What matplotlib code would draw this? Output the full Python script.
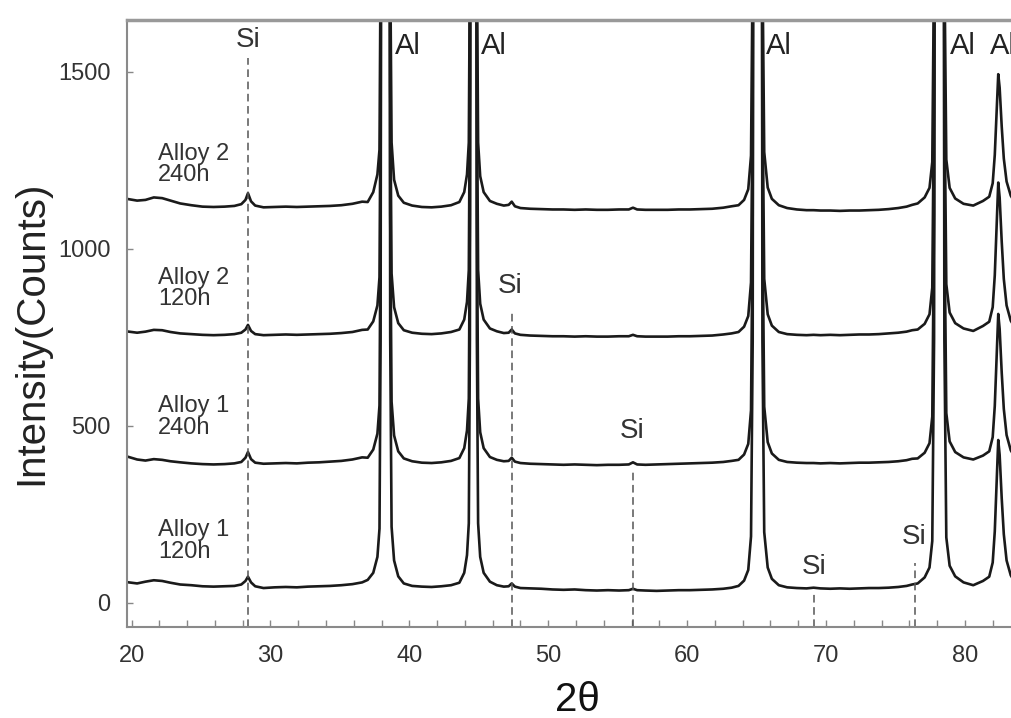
import matplotlib
matplotlib.use("Agg")
import matplotlib.pyplot as plt
from matplotlib.ticker import MultipleLocator

plt.rcParams['font.family'] = ['Liberation Sans', 'DejaVu Sans']

# 2theta grid (deg), dense around the peaks
two_theta = [19.8, 20.4, 21.0, 21.6, 22.2, 22.8, 23.5, 24.3, 25.1, 25.9, 26.7, 27.4, 27.9, 28.2, 28.38, 28.6, 28.9, 29.5,
             30.3, 31.1, 31.9, 32.7, 33.5, 34.3, 35.1, 35.9, 36.6,
             37.0, 37.4, 37.7, 37.85, 37.93, 38.05, 38.28, 38.51, 38.62, 38.72, 38.9, 39.2, 39.6,
             40.2, 40.9, 41.6, 42.3, 43.0,
             43.6, 43.95, 44.15, 44.28, 44.36, 44.46, 44.61, 44.76, 44.86, 44.95, 45.1, 45.35, 45.8,
             46.3, 46.8, 47.15, 47.37, 47.6, 48.0, 48.7, 49.5, 50.3, 51.1, 51.9, 52.7, 53.5, 54.3, 55.1, 55.8, 56.1, 56.4,
             57.0, 57.8, 58.6, 59.4, 60.2, 61.0, 61.8, 62.6, 63.2,
             63.7, 64.1, 64.4, 64.6, 64.72, 64.85, 65.07, 65.3, 65.42, 65.55, 65.8, 66.1, 66.6,
             67.2, 67.9, 68.6, 69.1, 69.6, 70.3, 71.0, 71.7, 72.4, 73.1, 73.8, 74.5, 75.2, 75.8, 76.2,
             76.6, 77.1, 77.45, 77.65, 77.78, 77.92, 78.15, 78.4, 78.52, 78.66, 78.9, 79.3, 79.9, 80.6,
             81.3, 81.75, 82.0, 82.15, 82.27, 82.4, 82.5, 82.65, 82.8, 83.0, 83.3, 83.5]

alloy1_120h = [58, 55, 60, 64, 62, 57, 52, 50, 47, 46, 47, 48, 52, 62, 74, 58, 47, 42,
               44, 45, 44, 46, 47, 48, 50, 53, 58,
               65, 85, 130, 210, 750, 5050, 8050, 5050, 750, 215, 120, 75, 55,
               48, 46, 45, 47, 50,
               57, 85, 135, 225, 745, 5045, 8045, 5045, 745, 225, 130, 85, 60,
               50, 46, 47, 55, 46, 42, 41, 40, 38, 37, 38, 36, 35, 36, 35, 36, 40, 36,
               35, 34, 35, 36, 36, 37, 38, 40, 43,
               48, 63, 93, 188, 738, 5040, 8040, 5040, 740, 200, 100, 68, 50,
               44, 42, 41, 43, 41, 40, 41, 40, 41, 42, 42, 43, 45, 48, 52,
               55, 72, 100, 175, 745, 5045, 8045, 5045, 745, 185, 105, 75, 58, 50,
               62, 74, 114, 202, 326, 460, 418, 295, 194, 120, 78, 65]

alloy1_240h = [412, 405, 402, 406, 404, 400, 397, 394, 392, 391, 392, 394, 398, 410, 426, 406, 396, 393,
               394, 395, 394, 396, 397, 399, 401, 405, 411,
               410, 433, 478, 558, 1098, 5400, 8400, 5400, 1098, 568, 473, 428, 408,
               400, 396, 395, 397, 401,
               409, 437, 487, 577, 1097, 5400, 8400, 5400, 1097, 577, 482, 437, 412,
               404, 400, 401, 410, 399, 395, 393, 392, 391, 390, 391, 390, 389, 390, 390, 391, 397, 391,
               390, 391, 392, 393, 394, 395, 396, 398, 401,
               404, 419, 449, 544, 1094, 5400, 8400, 5400, 1094, 554, 454, 422, 404,
               398, 396, 395, 395, 394, 395, 394, 395, 396, 396, 397, 398, 400, 403, 407,
               408, 424, 451, 526, 1096, 5400, 8400, 5400, 1096, 536, 456, 426, 411, 405,
               416, 428, 468, 556, 680, 816, 774, 650, 548, 474, 431, 418]

alloy2_120h = [766, 763, 766, 771, 770, 765, 761, 759, 757, 756, 757, 759, 763, 772, 785, 768, 759, 756,
               757, 758, 757, 758, 759, 760, 762, 765, 771,
               772, 795, 840, 920, 1460, 5760, 8760, 5760, 1460, 930, 835, 790, 770,
               763, 760, 759, 761, 765,
               772, 800, 850, 940, 1460, 5760, 8760, 5760, 1460, 940, 845, 800, 775,
               767, 762, 763, 772, 761, 757, 755, 754, 753, 753, 752, 753, 752, 752, 753, 753, 757, 753,
               752, 752, 752, 753, 753, 754, 755, 758, 761,
               765, 780, 810, 905, 1455, 5755, 8755, 5755, 1455, 915, 815, 783, 765,
               759, 757, 756, 757, 756, 757, 756, 757, 758, 758, 759, 761, 763, 766, 770,
               772, 788, 815, 890, 1460, 5760, 8760, 5760, 1460, 900, 820, 790, 775, 768,
               782, 794, 835, 925, 1050, 1187, 1145, 1020, 915, 840, 797, 784]

alloy2_240h = [1140, 1136, 1138, 1145, 1143, 1136, 1128, 1123, 1119, 1118, 1119, 1121, 1126, 1138, 1157, 1134, 1122, 1117,
               1118, 1119, 1118, 1119, 1120, 1121, 1123, 1127, 1133,
               1132, 1160, 1210, 1280, 1820, 6120, 9120, 6120, 1820, 1300, 1195, 1150, 1130,
               1122, 1118, 1117, 1119, 1123,
               1132, 1160, 1210, 1300, 1820, 6120, 9120, 6120, 1820, 1300, 1205, 1160, 1135,
               1127, 1122, 1124, 1133, 1120, 1115, 1113, 1112, 1111, 1111, 1110, 1111, 1110, 1110, 1111, 1111, 1116, 1111,
               1110, 1110, 1110, 1111, 1111, 1112, 1113, 1116, 1120,
               1123, 1138, 1168, 1263, 1813, 6113, 9113, 6113, 1813, 1273, 1173, 1141, 1123,
               1115, 1111, 1109, 1109, 1108, 1108, 1107, 1108, 1108, 1109, 1110, 1112, 1115, 1119, 1124,
               1128, 1145, 1172, 1245, 1812, 6112, 9112, 6112, 1812, 1252, 1172, 1142, 1127, 1122,
               1135, 1147, 1185, 1265, 1375, 1493, 1455, 1345, 1255, 1190, 1150, 1137]

patterns = [alloy1_120h, alloy1_240h, alloy2_120h, alloy2_240h]
pattern_names = ["Alloy 1\n120h", "Alloy 1\n240h", "Alloy 2\n120h", "Alloy 2\n240h"]
name_y = [175, 525, 889, 1237]

# Si reflections: position, top of dashed marker, label position
si_pos = [28.38, 47.37, 56.1, 69.1, 76.4]
si_line_top = [1540, 820, 375, 28, 113]
si_label_x = [28.38, 47.28, 56.06, 69.13, 76.33]
si_label_y = [1590, 895, 486, 102, 186]

# Al labels (left edge of text)
al_label_x = [38.95, 45.15, 65.7, 78.9, 81.8]
al_label_y = 1572

fig = plt.figure(figsize=(10.12, 7.18), dpi=100)
ax = fig.add_axes([127/1012, 91/718, 885/1012, 607/718])

for y in patterns:
    ax.plot(two_theta, y, color='#1a1a1a', lw=1.9, solid_joinstyle='round')

ax.vlines(si_pos, -68, si_line_top, colors='#555555', linestyles=(0, (5, 3)), lw=1.1)

for nm, yy in zip(pattern_names, name_y):
    ax.text(21.9, yy, nm, fontsize=17, color='#333333', ha='left', va='center', linespacing=0.95)
for xx, yy in zip(si_label_x, si_label_y):
    ax.text(xx, yy, "Si", fontsize=20, color='#333333', ha='center', va='center')
for xx in al_label_x:
    ax.text(xx, al_label_y, "Al", fontsize=21, color='#222222', ha='left', va='center', clip_on=False)

ax.set_xlim(19.67, 83.39)
ax.set_ylim(-68, 1646)

ax.xaxis.set_major_locator(MultipleLocator(10))
ax.xaxis.set_minor_locator(MultipleLocator(2))
ax.yaxis.set_major_locator(MultipleLocator(500))
ax.tick_params(axis='x', which='both', direction='in', length=5, width=1, color='#888888',
               labelsize=17, labelcolor='#333333', pad=13, top=False)
ax.tick_params(axis='y', direction='in', length=4, width=1, color='#888888',
               labelsize=17, labelcolor='#333333', pad=12, right=False)

for s in ['left', 'bottom']:
    ax.spines[s].set_color('#8a8a8a')
    ax.spines[s].set_linewidth(1.5)
ax.spines['top'].set_color('#999999')
ax.spines['top'].set_linewidth(2.5)
ax.spines['right'].set_visible(False)

fig.text(31/1012, 1 - 333/718, "Intensity(Counts)", rotation=90, fontsize=29,
         ha='center', va='center', color='#222222')
fig.text(577/1012, 1 - 700/718, "2θ", fontsize=29, ha='center', va='center', color='#111111')

fig.savefig("out.png", dpi=100)
